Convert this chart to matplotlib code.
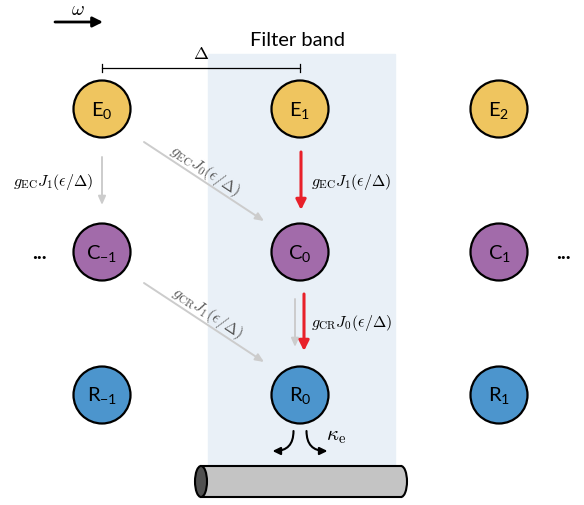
import numpy as np
import matplotlib.pyplot as plt
from matplotlib.patches import Circle, Rectangle, Ellipse, FancyArrowPatch
from matplotlib.path import Path

plt.rcParams['font.family'] = ['Lato', 'DejaVu Sans']
plt.rcParams['mathtext.fontset'] = 'custom'
plt.rcParams['mathtext.rm'] = 'Lato'
plt.rcParams['mathtext.it'] = 'Lato:italic'

# mode labels, one list per row
row_letters = ['E', 'C', 'R']
e_subs = ['0', '1', '2']
c_subs = ['-1', '0', '1']
r_subs = ['-1', '0', '1']
row_colors = ['#efc55f', '#a26baa', '#4c95cd']

# coupling labels
lab_ec_j1 = r'$g_{\rm EC}J_1(\epsilon/\Delta)$'
lab_ec_j0 = r'$g_{\rm EC}J_0(\epsilon/\Delta)$'
lab_cr_j1 = r'$g_{\rm CR}J_1(\epsilon/\Delta)$'
lab_cr_j0 = r'$g_{\rm CR}J_0(\epsilon/\Delta)$'

# layout (pixel units)
col_x = [102, 300, 499]
row_y = [110, 253, 396]
rad = 28.5
gray = '#cccccc'
red = '#e8202a'

fig = plt.figure(figsize=(5.84, 5.06), dpi=100)
ax = fig.add_axes([0, 0, 1, 1])
ax.set_xlim(0, 584)
ax.set_ylim(506, 0)
ax.axis('off')

# filter band
ax.add_patch(Rectangle((208, 55), 187, 420, color='#e9f0f7', zorder=0))
ax.text(298, 40, 'Filter band', fontsize=14.5, ha='center', va='center')

# frequency axis and spacing
ax.add_patch(FancyArrowPatch((55, 23), (103, 23), arrowstyle='-|>,head_length=0.6,head_width=0.3',
                             mutation_scale=10, lw=2, color='black', shrinkA=0, shrinkB=0))
ax.text(78, 9, r'$\omega$', fontsize=14, ha='center', va='center', math_fontfamily='cm')
ax.plot([102, 300], [69, 69], color='black', lw=0.9)
ax.plot([102, 102], [65, 73], color='black', lw=0.9)
ax.plot([300, 300], [65, 73], color='black', lw=0.9)
ax.text(201, 54, r'$\Delta$', fontsize=13, ha='center', va='center', math_fontfamily='cm')

# modes
for letters, subs, y, col in zip(row_letters, [e_subs, c_subs, r_subs], row_y, row_colors):
    for x, s in zip(col_x, subs):
        ax.add_patch(Circle((x, y), rad, facecolor=col, edgecolor='black', lw=1.6, zorder=3))
        ax.text(x, y, r'$\mathrm{%s}_{\mathrm{%s}}$' % (letters, s), fontsize=14.5,
                ha='center', va='center', zorder=4)

ax.text(39, 253, '...', fontsize=15, ha='center', va='center', fontweight='bold')
ax.text(563, 253, '...', fontsize=15, ha='center', va='center', fontweight='bold')


def arrow(p0, p1, color, lw, hl, hw):
    ax.add_patch(FancyArrowPatch(p0, p1, arrowstyle='-|>,head_length=%g,head_width=%g' % (hl, hw),
                                 mutation_scale=10, lw=lw, color=color, shrinkA=0, shrinkB=0, zorder=2))


# couplings
arrow((102, 158), (102, 206), gray, 1.4, 0.5, 0.22)
ax.text(53, 182, lab_ec_j1, fontsize=11.5, ha='center', va='center', math_fontfamily='cm')
arrow((144, 143), (264, 222), gray, 1.4, 0.5, 0.22)
ax.text(205, 171, lab_ec_j0, fontsize=11.5, ha='center', va='center', math_fontfamily='cm',
        rotation=-33.5, rotation_mode='anchor', color='#555555')
arrow((301, 153), (301, 211), red, 2.2, 0.6, 0.3)
ax.text(351, 182, lab_ec_j1, fontsize=11.5, ha='center', va='center', math_fontfamily='cm')

arrow((144, 284), (264, 363), gray, 1.4, 0.5, 0.22)
ax.text(207, 313, lab_cr_j1, fontsize=11.5, ha='center', va='center', math_fontfamily='cm',
        rotation=-33.5, rotation_mode='anchor', color='#555555')
arrow((295, 300), (295, 348), gray, 1.4, 0.5, 0.22)
arrow((304, 295), (304, 352), red, 2.2, 0.6, 0.3)
ax.text(351, 323, lab_cr_j0, fontsize=11.5, ha='center', va='center', math_fontfamily='cm')

# output coupling
for sgn in (-1, 1):
    x0 = 300 + sgn * 6.5
    path = Path([(x0, 432), (x0, 452), (x0 + sgn * 21, 452)], [Path.MOVETO, Path.CURVE3, Path.CURVE3])
    ax.add_patch(FancyArrowPatch(path=path, arrowstyle='-|>,head_length=0.45,head_width=0.22',
                                 mutation_scale=10, lw=1.5, color='black', zorder=3))
ax.text(336, 436, r'$\kappa_{\rm e}$', fontsize=15, ha='center', va='center', math_fontfamily='cm')

# waveguide
ax.add_patch(Ellipse((401, 482.5), 12, 31, facecolor='#c4c4c4', edgecolor='black', lw=1.5, zorder=3))
ax.add_patch(Rectangle((201, 467), 200, 31, facecolor='#c4c4c4', edgecolor='none', zorder=3))
ax.plot([201, 401], [467, 467], color='black', lw=1.5, zorder=4)
ax.plot([201, 401], [498, 498], color='black', lw=1.5, zorder=4)
ax.add_patch(Ellipse((201, 482.5), 12, 31, facecolor='#505050', edgecolor='black', lw=1.5, zorder=4))

fig.savefig('out.png', dpi=100)
